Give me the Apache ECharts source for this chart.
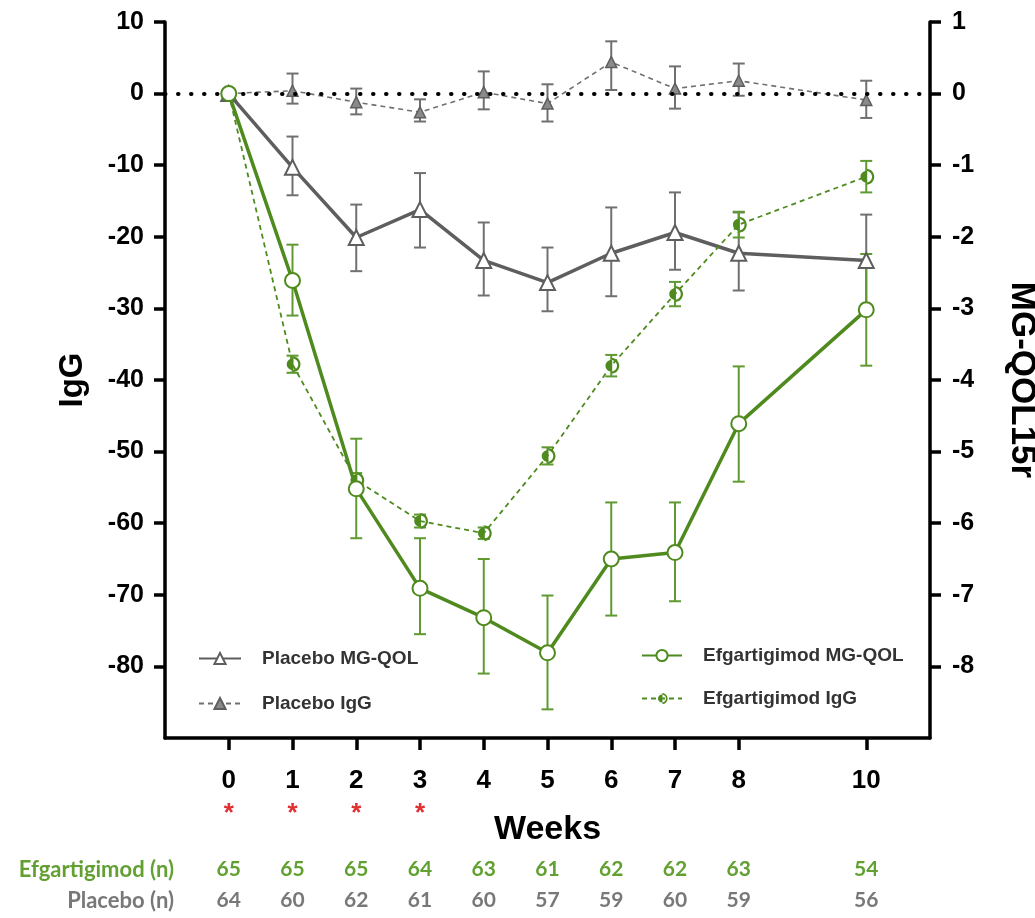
<!DOCTYPE html>
<html>
<head>
<meta charset="utf-8">
<script src="https://cdn.jsdelivr.net/npm/echarts@6/dist/echarts.min.js"></script>
<style>html,body{margin:0;padding:0;background:#fff}#c{width:1035px;height:918px}</style>
</head>
<body>
<div id="c"></div>
<script>
// ---- data ----
const weeks = [0, 1, 2, 3, 4, 5, 6, 7, 8, 10];
const significance = ['*', '*', '*', '*', '', '', '', '', '', ''];
// MG-QOL15r (right axis units)
const placeboQol     = [0, -1.03, -2.01, -1.62, -2.33, -2.64, -2.23, -1.94, -2.23, -2.33];
const placeboQolLow  = [0, -1.42, -2.48, -2.15, -2.82, -3.04, -2.83, -2.46, -2.75, -2.95];
const placeboQolHigh = [0, -0.60, -1.55, -1.11, -1.80, -2.15, -1.59, -1.38, -1.66, -1.69];
const efgQol     = [0, -2.61, -5.52, -6.91, -7.32, -7.81, -6.50, -6.41, -4.61, -3.02];
const efgQolLow  = [0, -3.10, -6.21, -7.55, -8.10, -8.60, -7.29, -7.09, -5.42, -3.80];
const efgQolHigh = [0, -2.11, -4.82, -6.21, -6.50, -7.01, -5.71, -5.71, -3.81, -2.24];
// IgG (left axis units)
const placeboIgg     = [0, 0.4, -1.2, -2.6, 0.2, -1.4, 4.4, 0.7, 1.8, -0.9];
const placeboIggLow  = [0, -1.4, -2.9, -3.9, -2.2, -3.9, 0.5, -2.1, -0.3, -3.4];
const placeboIggHigh = [0, 2.8, 0.7, -0.8, 3.1, 1.3, 7.3, 3.8, 4.2, 1.8];
const efgIgg     = [0, -37.8, -54.0, -59.7, -61.4, -50.6, -38.0, -28.0, -18.3, -11.6];
const efgIggLow  = [0, -39.0, -55.0, -60.6, -62.2, -51.8, -39.5, -29.7, -20.1, -13.8];
const efgIggHigh = [0, -36.6, -53.0, -58.8, -60.6, -49.4, -36.5, -26.3, -16.5, -9.4];
// sample sizes
const efgN     = [65, 65, 65, 64, 63, 61, 62, 62, 63, 54];
const placeboN = [64, 60, 62, 61, 60, 57, 59, 60, 59, 56];
const leftTicks  = [10, 0, -10, -20, -30, -40, -50, -60, -70, -80];
const rightTicks = [1, 0, -1, -2, -3, -4, -5, -6, -7, -8];

// ---- styles ----
const GREEN = '#4f8a1f';
const GREEN_ERR = '#5f9a30';
const GREY = '#5e5e5e';
const GREY_ERR = '#707070';
const FONT = '"Liberation Sans", Arial, sans-serif';
const NFONT = 'Lato, "Open Sans", sans-serif';

const pts = (ys) => weeks.map((w, i) => [w, ys[i]]);
const errs = (lo, hi) => weeks.map((w, i) => [w, lo[i], hi[i]]).filter(d => d[0] !== 0);

function errRender(color, lw, cap) {
  return function (params, api) {
    const x = api.value(0);
    const p1 = api.coord([x, api.value(1)]);
    const p2 = api.coord([x, api.value(2)]);
    const style = { stroke: color, lineWidth: lw, fill: null };
    return {
      type: 'group',
      children: [
        { type: 'line', shape: { x1: p1[0], y1: p1[1], x2: p2[0], y2: p2[1] }, style },
        { type: 'line', shape: { x1: p1[0] - cap, y1: p1[1], x2: p1[0] + cap, y2: p1[1] }, style },
        { type: 'line', shape: { x1: p2[0] - cap, y1: p2[1], x2: p2[0] + cap, y2: p2[1] }, style }
      ]
    };
  };
}

// half-filled circle: ring + left half disk (bezier circles)
const halfCircle = 'path://' +
  'M10 0C15.52 0 20 4.48 20 10C20 15.52 15.52 20 10 20C4.48 20 0 15.52 0 10C0 4.48 4.48 0 10 0Z' +
  'M10 2.8C6.02 2.8 2.8 6.02 2.8 10C2.8 13.98 6.02 17.2 10 17.2C13.98 17.2 17.2 13.98 17.2 10C17.2 6.02 13.98 2.8 10 2.8Z' +
  'M10.8 0C4.48 0 0 4.48 0 10C0 15.52 4.48 20 10.8 20Z';

const countAxis = (arr, color, margin) => ({
  type: 'value', min: -1, max: 11, position: 'bottom', gridIndex: 0,
  axisLine: { show: false }, axisTick: { show: false }, splitLine: { show: false },
  axisLabel: {
    customValues: weeks, margin: margin, color: color,
    fontFamily: NFONT, fontWeight: 'bold', fontSize: 21,
    formatter: v => { const i = weeks.indexOf(v); return i >= 0 ? String(arr[i]) : ''; }
  }
});

const chart = echarts.init(document.getElementById('c'), null, { renderer: 'canvas' });
chart.setOption({
  animation: false,
  backgroundColor: '#fff',
  grid: { left: 165, right: 105, top: 22, bottom: 180, containLabel: false, outerBoundsMode: 'none' },
  xAxis: [
    {
      type: 'value', min: -1, max: 11, position: 'bottom',
      name: 'Weeks', nameLocation: 'middle', nameGap: 75, nameMoveOverlap: false,
      nameTextStyle: { fontFamily: FONT, fontWeight: 'bold', fontSize: 34, color: '#000' },
      axisLine: { show: true, onZero: false, lineStyle: { color: '#000', width: 3.5 } },
      axisTick: { show: true, customValues: weeks, length: 12, lineStyle: { color: '#000', width: 3.5 } },
      splitLine: { show: false },
      axisLabel: {
        customValues: weeks, margin: 27,
        formatter: v => { const i = weeks.indexOf(v); return i >= 0 ? '{n|' + v + '}\n{s|' + (significance[i] || ' ') + '}' : ''; },
        rich: {
          n: { fontFamily: FONT, fontWeight: 'bold', fontSize: 26, color: '#000', lineHeight: 32 },
          s: { fontFamily: FONT, fontWeight: 'bold', fontSize: 26, color: '#e0302f', lineHeight: 34 }
        }
      }
    },
    countAxis(efgN, '#62a032', 121),
    countAxis(placeboN, '#787878', 152)
  ],
  yAxis: [
    {
      type: 'value', min: -90, max: 10, position: 'left',
      name: 'IgG', nameLocation: 'middle', nameGap: 76, nameRotate: 90, nameMoveOverlap: false,
      nameTextStyle: { fontFamily: FONT, fontWeight: 'bold', fontSize: 33, color: '#000' },
      axisLine: { show: true, onZero: false, lineStyle: { color: '#000', width: 3.5 } },
      axisTick: { show: true, customValues: leftTicks, length: 11, lineStyle: { color: '#000', width: 3.5 } },
      splitLine: { show: false },
      axisLabel: { customValues: leftTicks, margin: 21, fontFamily: FONT, fontWeight: 'bold', fontSize: 25, color: '#000' }
    },
    {
      type: 'value', min: -9, max: 1, position: 'right',
      name: 'MG-QOL15r', nameLocation: 'middle', nameGap: 74, nameRotate: -90, nameMoveOverlap: false,
      nameTextStyle: { fontFamily: FONT, fontWeight: 'bold', fontSize: 35, color: '#000' },
      axisLine: { show: true, onZero: false, lineStyle: { color: '#000', width: 3.5 } },
      axisTick: { show: true, customValues: rightTicks, length: 11, lineStyle: { color: '#000', width: 3.5 } },
      splitLine: { show: false },
      axisLabel: { customValues: rightTicks, margin: 22, fontFamily: FONT, fontWeight: 'bold', fontSize: 25, color: '#000' }
    }
  ],
  legend: [
    {
      orient: 'vertical', left: 193, top: 644, itemWidth: 42, itemHeight: 14, itemGap: 26,
      data: ['Placebo MG-QOL', 'Placebo IgG'],
      textStyle: { fontFamily: FONT, fontWeight: 'bold', fontSize: 19, color: '#333', padding: [0, 0, 0, 16] }
    },
    {
      orient: 'vertical', left: 636, top: 641, itemWidth: 40, itemHeight: 14, itemGap: 24,
      data: ['Efgartigimod MG-QOL', 'Efgartigimod IgG'],
      textStyle: { fontFamily: FONT, fontWeight: 'bold', fontSize: 19, color: '#333', padding: [0, 0, 0, 16] }
    }
  ],
  graphic: [
    { type: 'text', x: 174, y: 870, style: { text: 'Efgartigimod (n)', align: 'right', verticalAlign: 'middle', fill: '#62a032', font: 'bold 22px Lato, "Open Sans", sans-serif' } },
    { type: 'text', x: 174, y: 901, style: { text: 'Placebo (n)', align: 'right', verticalAlign: 'middle', fill: '#787878', font: 'bold 22px Lato, "Open Sans", sans-serif' } }
  ],
  series: [
    // error bars
    { name: 'err-pq', type: 'custom', xAxisIndex: 0, yAxisIndex: 1, z: 1, silent: true, renderItem: errRender(GREY_ERR, 2, 6), data: errs(placeboQolLow, placeboQolHigh), encode: { x: 0, y: [1, 2] } },
    { name: 'err-pi', type: 'custom', xAxisIndex: 0, yAxisIndex: 0, z: 1, silent: true, renderItem: errRender(GREY_ERR, 2, 6), data: errs(placeboIggLow, placeboIggHigh), encode: { x: 0, y: [1, 2] } },
    { name: 'err-eq', type: 'custom', xAxisIndex: 0, yAxisIndex: 1, z: 1, silent: true, renderItem: errRender(GREEN_ERR, 2, 6), data: errs(efgQolLow, efgQolHigh), encode: { x: 0, y: [1, 2] } },
    { name: 'err-ei', type: 'custom', xAxisIndex: 0, yAxisIndex: 0, z: 1, silent: true, renderItem: errRender(GREEN_ERR, 2, 6), data: errs(efgIggLow, efgIggHigh), encode: { x: 0, y: [1, 2] } },
    {
      name: 'Placebo IgG', type: 'line', xAxisIndex: 0, yAxisIndex: 0, z: 3,
      data: pts(placeboIgg), symbol: 'triangle', symbolSize: 11,
      lineStyle: { color: GREY_ERR, width: 1.6, type: [5, 4] },
      itemStyle: { color: '#8a8a8a', borderColor: '#5e5e5e', borderWidth: 1.5 },
      markLine: {
        silent: true, symbol: 'none', label: { show: false },
        lineStyle: { color: '#000', width: 4, type: [0.5, 12.5], cap: 'round' },
        data: [{ yAxis: 0 }]
      }
    },
    {
      name: 'Placebo MG-QOL', type: 'line', xAxisIndex: 0, yAxisIndex: 1, z: 4,
      data: pts(placeboQol), symbol: 'triangle', symbolSize: 15,
      lineStyle: { color: GREY, width: 3.5 },
      itemStyle: { color: '#fff', borderColor: GREY, borderWidth: 2 }
    },
    {
      name: 'Efgartigimod IgG', type: 'line', xAxisIndex: 0, yAxisIndex: 0, z: 5,
      data: pts(efgIgg), symbol: halfCircle, symbolSize: 16,
      lineStyle: { color: GREEN, width: 1.8, type: [5, 4] },
      itemStyle: { color: GREEN, borderWidth: 0 }
    },
    {
      name: 'Efgartigimod MG-QOL', type: 'line', xAxisIndex: 0, yAxisIndex: 1, z: 6,
      data: pts(efgQol), symbol: 'circle', symbolSize: 15,
      lineStyle: { color: GREEN, width: 3.5 },
      itemStyle: { color: '#fff', borderColor: GREEN, borderWidth: 2 }
    }
  ]
});
</script>
</body>
</html>
